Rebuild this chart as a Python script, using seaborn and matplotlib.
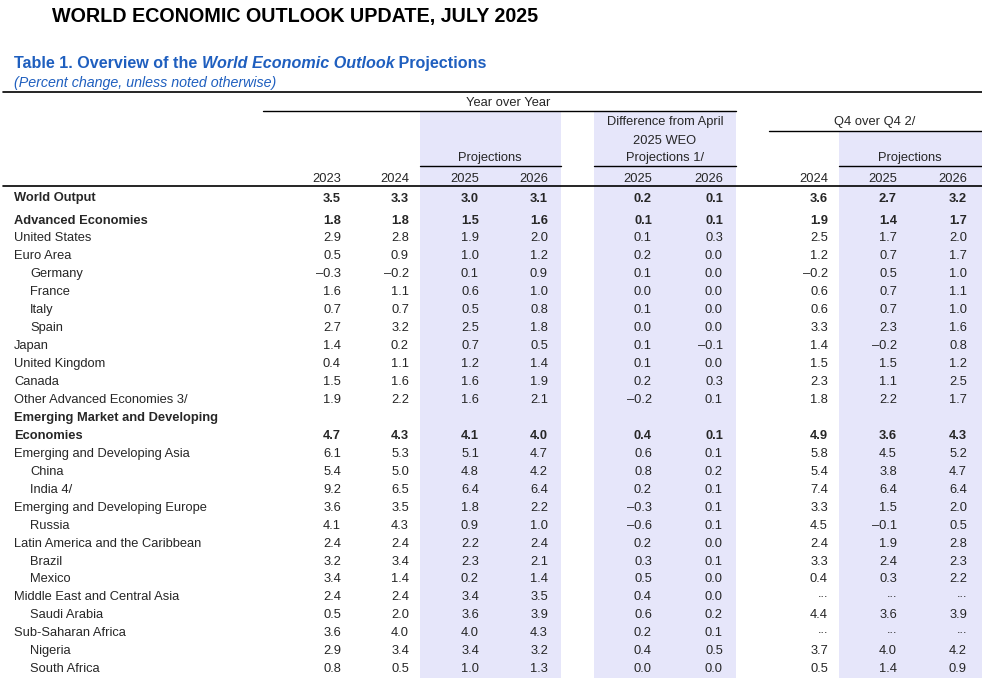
import matplotlib
matplotlib.use('Agg')
import matplotlib.pyplot as plt
import seaborn as sns

labels = ['World Output', 'Advanced Economies', 'United States', 'Euro Area',
          'Germany', 'France', 'Italy', 'Spain', 'Japan', 'United Kingdom',
          'Canada', 'Other Advanced Economies 3/',
          'Emerging Market and Developing\nEconomies',
          'Emerging and Developing Asia', 'China', 'India 4/',
          'Emerging and Developing Europe', 'Russia',
          'Latin America and the Caribbean', 'Brazil', 'Mexico',
          'Middle East and Central Asia', 'Saudi Arabia',
          'Sub-Saharan Africa', 'Nigeria', 'South Africa']
indented = ['Germany', 'France', 'Italy', 'Spain', 'China', 'India 4/',
            'Russia', 'Brazil', 'Mexico', 'Saudi Arabia', 'Nigeria', 'South Africa']
bold_rows = ['World Output', 'Advanced Economies',
             'Emerging Market and Developing\nEconomies']

yoy_2023 = [3.5, 1.8, 2.9, 0.5, -0.3, 1.6, 0.7, 2.7, 1.4, 0.4, 1.5, 1.9, 4.7,
            6.1, 5.4, 9.2, 3.6, 4.1, 2.4, 3.2, 3.4, 2.4, 0.5, 3.6, 2.9, 0.8]
yoy_2024 = [3.3, 1.8, 2.8, 0.9, -0.2, 1.1, 0.7, 3.2, 0.2, 1.1, 1.6, 2.2, 4.3,
            5.3, 5.0, 6.5, 3.5, 4.3, 2.4, 3.4, 1.4, 2.4, 2.0, 4.0, 3.4, 0.5]
proj_2025 = [3.0, 1.5, 1.9, 1.0, 0.1, 0.6, 0.5, 2.5, 0.7, 1.2, 1.6, 1.6, 4.1,
             5.1, 4.8, 6.4, 1.8, 0.9, 2.2, 2.3, 0.2, 3.4, 3.6, 4.0, 3.4, 1.0]
proj_2026 = [3.1, 1.6, 2.0, 1.2, 0.9, 1.0, 0.8, 1.8, 0.5, 1.4, 1.9, 2.1, 4.0,
             4.7, 4.2, 6.4, 2.2, 1.0, 2.4, 2.1, 1.4, 3.5, 3.9, 4.3, 3.2, 1.3]
diff_2025 = [0.2, 0.1, 0.1, 0.2, 0.1, 0.0, 0.1, 0.0, 0.1, 0.1, 0.2, -0.2, 0.4,
             0.6, 0.8, 0.2, -0.3, -0.6, 0.2, 0.3, 0.5, 0.4, 0.6, 0.2, 0.4, 0.0]
diff_2026 = [0.1, 0.1, 0.3, 0.0, 0.0, 0.0, 0.0, 0.0, -0.1, 0.0, 0.3, 0.1, 0.1,
             0.1, 0.2, 0.1, 0.1, 0.1, 0.0, 0.1, 0.0, 0.0, 0.2, 0.1, 0.5, 0.0]
q4_2024 = [3.6, 1.9, 2.5, 1.2, -0.2, 0.6, 0.6, 3.3, 1.4, 1.5, 2.3, 1.8, 4.9,
           5.8, 5.4, 7.4, 3.3, 4.5, 2.4, 3.3, 0.4, None, 4.4, None, 3.7, 0.5]
q4_2025 = [2.7, 1.4, 1.7, 0.7, 0.5, 0.7, 0.7, 2.3, -0.2, 1.5, 1.1, 2.2, 3.6,
           4.5, 3.8, 6.4, 1.5, -0.1, 1.9, 2.4, 0.3, None, 3.6, None, 4.0, 1.4]
q4_2026 = [3.2, 1.7, 2.0, 1.7, 1.0, 1.1, 1.0, 1.6, 0.8, 1.2, 2.5, 1.7, 4.3,
           5.2, 4.7, 6.4, 2.0, 0.5, 2.8, 2.3, 2.2, None, 3.9, None, 4.2, 0.9]

col_years = ['2023', '2024', '2025', '2026', '2025', '2026', '2024', '2025', '2026']
columns = [yoy_2023, yoy_2024, proj_2025, proj_2026, diff_2025, diff_2026,
           q4_2024, q4_2025, q4_2026]

sns.set_theme(style='white')
plt.rcParams['font.family'] = ['Liberation Sans', 'DejaVu Sans']

BLUE = '#1F5FBF'
SHADE = '#E6E6FA'
FS = 9.3
DY = 1.5  # nudge text down so caps sit centred on the row

fig = plt.figure(figsize=(9.82, 6.78), dpi=100)
ax = fig.add_axes([0, 0, 1, 1])
ax.set_xlim(0, 982)
ax.set_ylim(678, 0)
ax.axis('off')

# right edges of the number columns (pixels)
col_x = [341, 409, 479, 548, 652, 723, 828, 897, 967]

# shaded projection bands
ax.axvspan(420, 561, ymin=0, ymax=1 - 111 / 678, color=SHADE, lw=0, zorder=0)
ax.axvspan(594, 736, ymin=0, ymax=1 - 111 / 678, color=SHADE, lw=0, zorder=0)
ax.axvspan(839, 982, ymin=0, ymax=1 - 131 / 678, color=SHADE, lw=0, zorder=0)

# titles
ax.text(52, 15 + DY, 'WORLD ECONOMIC OUTLOOK UPDATE, JULY 2025', fontsize=14.2,
        fontweight='bold', color='black', va='center', ha='left')

fig.canvas.draw()
renderer = fig.canvas.get_renderer()
x = 14
for part, style in [('Table 1. Overview of the ', 'normal'),
                    ('World Economic Outlook', 'italic'),
                    (' Projections', 'normal')]:
    t = ax.text(x, 62 + DY, part, fontsize=11.6, fontweight='bold', fontstyle=style,
                color=BLUE, va='center', ha='left')
    x += t.get_window_extent(renderer).width
ax.text(14, 81 + DY, '(Percent change, unless noted otherwise)', fontsize=10.3,
        fontstyle='italic', color=BLUE, va='center', ha='left')

# header rules
ax.plot([3, 982], [92, 92], color='black', lw=1.2)
ax.plot([263, 736], [111, 111], color='black', lw=1)
ax.plot([769, 982], [131, 131], color='black', lw=1)
ax.plot([420, 561], [166, 166], color='black', lw=1)
ax.plot([594, 736], [166, 166], color='black', lw=1)
ax.plot([839, 982], [166, 166], color='black', lw=1)
ax.plot([3, 982], [186, 186], color='black', lw=1.2)

ax.text(508, 101 + DY, 'Year over Year', fontsize=FS, ha='center', va='center')
ax.text(665, 121 + DY, 'Difference from April', fontsize=FS, ha='center', va='center')
ax.text(665, 139 + DY, '2025 WEO', fontsize=FS, ha='center', va='center')
ax.text(665, 157 + DY, 'Projections 1/', fontsize=FS, ha='center', va='center')
ax.text(875, 121 + DY, 'Q4 over Q4 2/', fontsize=FS, ha='center', va='center')
ax.text(490, 157 + DY, 'Projections', fontsize=FS, ha='center', va='center')
ax.text(910, 157 + DY, 'Projections', fontsize=FS, ha='center', va='center')
for cx, yr in zip(col_x, col_years):
    ax.text(cx, 177 + DY, yr, fontsize=FS, ha='right', va='center')


def fmt(v):
    if v is None:
        return '...'
    s = f'{abs(v):.1f}'
    return '\u2013' + s if v < 0 else s


# body rows
step = 17.95
for i, name in enumerate(labels):
    if i == 0:
        y = 197
    else:
        slot = i if i < 12 else i + 1
        y = 219 + (slot - 1) * step
    y += DY
    weight = 'bold' if name in bold_rows else 'normal'
    lx = 30 if name in indented else 14
    if '\n' in name:
        top, bottom = name.split('\n')
        ax.text(lx, y - step, top, fontsize=FS, fontweight=weight, va='center', ha='left')
        ax.text(lx, y, bottom, fontsize=FS, fontweight=weight, va='center', ha='left')
    else:
        ax.text(lx, y, name, fontsize=FS, fontweight=weight, va='center', ha='left')
    for cx, col in zip(col_x, columns):
        v = col[i]
        ax.text(cx, y if v is not None else y - 3, fmt(v), fontsize=FS,
                fontweight=weight, va='center', ha='right')

fig.savefig('out.png', dpi=100)
